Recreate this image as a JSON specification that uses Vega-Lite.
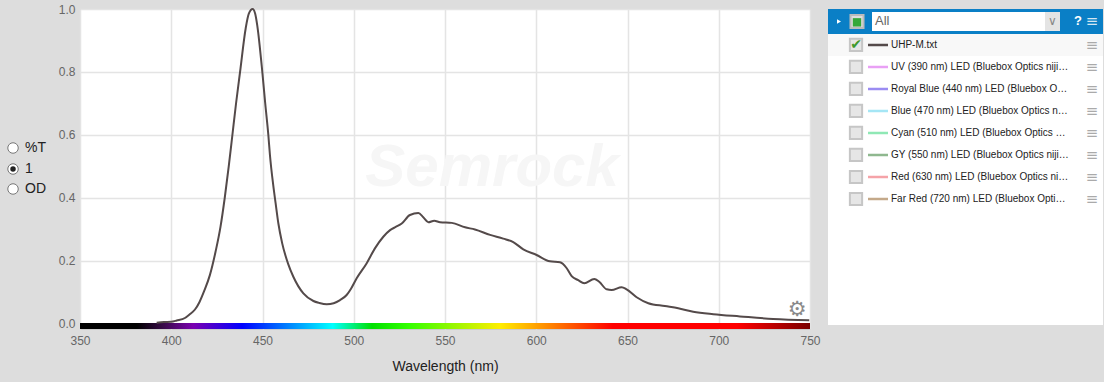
{"$schema":"https://vega.github.io/schema/vega-lite/v6.json","background":"#dddddd","bounds":"flush","padding":{"left":0,"top":0,"right":1,"bottom":0},"spacing":18,"config":{"font":"Liberation Sans","view":{"stroke":null}},
"datasets":{"one":[{}],"spectrum":[{"nm":392,"v":0.004},{"nm":396,"v":0.006},{"nm":400,"v":0.007},{"nm":403,"v":0.011},{"nm":407.5,"v":0.019},{"nm":410,"v":0.03},{"nm":413,"v":0.046},{"nm":415.5,"v":0.07},{"nm":418,"v":0.104},{"nm":421.2,"v":0.156},{"nm":424.3,"v":0.23},{"nm":427,"v":0.309},{"nm":429.3,"v":0.4},{"nm":431.5,"v":0.5},{"nm":433.5,"v":0.6},{"nm":435.5,"v":0.7},{"nm":437.7,"v":0.8},{"nm":440.8,"v":0.939},{"nm":442.5,"v":0.985},{"nm":444.6,"v":1.0},{"nm":446,"v":0.985},{"nm":447.1,"v":0.949},{"nm":449.9,"v":0.8},{"nm":451.5,"v":0.7},{"nm":453.2,"v":0.6},{"nm":454.1,"v":0.535},{"nm":455.9,"v":0.44},{"nm":457.2,"v":0.383},{"nm":458.7,"v":0.319},{"nm":460.8,"v":0.256},{"nm":464.1,"v":0.19},{"nm":466.9,"v":0.15},{"nm":472.4,"v":0.097},{"nm":477.9,"v":0.073},{"nm":481,"v":0.067},{"nm":485.2,"v":0.0625},{"nm":489,"v":0.066},{"nm":492.5,"v":0.076},{"nm":496.1,"v":0.092},{"nm":498.5,"v":0.112},{"nm":501.6,"v":0.145},{"nm":507.1,"v":0.193},{"nm":511.6,"v":0.24},{"nm":516.2,"v":0.277},{"nm":519.9,"v":0.298},{"nm":523,"v":0.308},{"nm":526.3,"v":0.319},{"nm":530.8,"v":0.346},{"nm":535.4,"v":0.352},{"nm":538.1,"v":0.339},{"nm":540.9,"v":0.323},{"nm":544.1,"v":0.328},{"nm":547.3,"v":0.323},{"nm":553.7,"v":0.321},{"nm":561,"v":0.307},{"nm":566.4,"v":0.3},{"nm":574.7,"v":0.283},{"nm":581.9,"v":0.271},{"nm":587.4,"v":0.26},{"nm":592.9,"v":0.237},{"nm":600.2,"v":0.219},{"nm":607.5,"v":0.199},{"nm":613,"v":0.196},{"nm":616.7,"v":0.177},{"nm":619.4,"v":0.152},{"nm":623,"v":0.139},{"nm":626.3,"v":0.129},{"nm":631.8,"v":0.143},{"nm":634.5,"v":0.134},{"nm":638.6,"v":0.11},{"nm":641.3,"v":0.108},{"nm":646.8,"v":0.117},{"nm":649.5,"v":0.11},{"nm":655,"v":0.085},{"nm":661.4,"v":0.066},{"nm":670.5,"v":0.057},{"nm":677.8,"v":0.05},{"nm":686,"v":0.039},{"nm":697,"v":0.031},{"nm":711.6,"v":0.024},{"nm":729.8,"v":0.016},{"nm":749.6,"v":0.012}],
"series":[{"row":1,"name":"UHP-M.txt","label":"UHP-M.txt","on":true},{"row":2,"name":"UV","label":"UV (390 nm) LED (Bluebox Optics niji…","on":false},{"row":3,"name":"Royal Blue","label":"Royal Blue (440 nm) LED (Bluebox O…","on":false},{"row":4,"name":"Blue","label":"Blue (470 nm) LED (Bluebox Optics n…","on":false},{"row":5,"name":"Cyan","label":"Cyan (510 nm) LED (Bluebox Optics …","on":false},{"row":6,"name":"GY","label":"GY (550 nm) LED (Bluebox Optics niji…","on":false},{"row":7,"name":"Red","label":"Red (630 nm) LED (Bluebox Optics ni…","on":false},{"row":8,"name":"Far Red","label":"Far Red (720 nm) LED (Bluebox Opti…","on":false}]},
"hconcat":[
{"width":730,"height":320,"view":{"fill":"#ffffff","stroke":"#cccccc"},"data":{"name":"one"},
"layer":[
{"data":{"name":"spectrum"},"mark":{"type":"line","color":"#544a4a","strokeWidth":2,"opacity":0},
"encoding":{"x":{"field":"nm","type":"quantitative","scale":{"domain":[350,750],"nice":false,"zero":false},"axis":{"values":[350,400,450,500,550,600,650,700,750],"title":"Wavelength (nm)","titleFontSize":14,"titleFontWeight":"normal","titleColor":"#222222","titlePadding":13,"labelFontSize":12,"labelColor":"#666666","labelPadding":6,"grid":true,"gridColor":"#e4e4e4","gridWidth":1.5,"domain":false,"ticks":false,"labelFlush":false}},
"y":{"field":"v","type":"quantitative","scale":{"domain":[-0.0159,1],"nice":false,"zero":false},"axis":{"values":[0,0.2,0.4,0.6,0.8,1],"format":".1f","title":null,"labelFontSize":12,"labelColor":"#666666","labelPadding":5,"grid":true,"gridColor":"#e4e4e4","gridWidth":1.5,"domain":false,"ticks":false}}}},
{"mark":{"type":"rect","color":"#dddddd","opacity":0},"encoding":{"x":{"datum":306.7},"x2":{"datum":310},"y":{"datum":1.0254},"y2":{"datum":-0.184}}},
{"mark":{"type":"text","text":"Semrock","font":"Liberation Sans","fontStyle":"italic","fontWeight":"bold","fontSize":60,"color":"#f6f6f6"},"encoding":{"x":{"datum":575.8},"y":{"datum":0.495}}},
{"mark":{"type":"rect","color":{"gradient":"linear","x1":0,"x2":1,"y1":0,"y2":0,"stops":[{"offset":0,"color":"#000000"},{"offset":0.078,"color":"#000000"},{"offset":0.115,"color":"#3a0a4a"},{"offset":0.155,"color":"#7a00b0"},{"offset":0.222,"color":"#0000ff"},{"offset":0.346,"color":"#00ffff"},{"offset":0.4,"color":"#00e000"},{"offset":0.45,"color":"#33ff00"},{"offset":0.575,"color":"#ffee00"},{"offset":0.73,"color":"#ff0000"},{"offset":0.9,"color":"#ff0000"},{"offset":1,"color":"#7a0000"}]}},"encoding":{"x":{"datum":350},"x2":{"datum":750},"y":{"datum":-0.0159},"y2":{"datum":0.0032}}},
{"data":{"name":"spectrum"},"mark":{"type":"line","color":"#544a4a","strokeWidth":2,"interpolate":"monotone"},"encoding":{"x":{"field":"nm","type":"quantitative"},"y":{"field":"v","type":"quantitative"}}},
{"mark":{"type":"text","text":"⚙","font":"DejaVu Sans","fontSize":21,"color":"#8a8a8a"},"encoding":{"x":{"datum":742.9},"y":{"datum":0.044}}},
{"mark":{"type":"point","filled":true,"shape":"circle","size":110,"fill":"#ffffff","stroke":"#777777","strokeWidth":1,"opacity":1},"encoding":{"x":{"datum":313.3},"y":{"datum":0.5587}}},
{"mark":{"type":"point","filled":true,"shape":"circle","size":110,"fill":"#ffffff","stroke":"#777777","strokeWidth":1,"opacity":1},"encoding":{"x":{"datum":313.3},"y":{"datum":0.492}}},
{"mark":{"type":"point","filled":true,"shape":"circle","size":110,"fill":"#ffffff","stroke":"#777777","strokeWidth":1,"opacity":1},"encoding":{"x":{"datum":313.3},"y":{"datum":0.4286}}},
{"mark":{"type":"point","filled":true,"shape":"circle","size":30,"fill":"#222222","opacity":1},"encoding":{"x":{"datum":313.3},"y":{"datum":0.492}}},
{"mark":{"type":"text","text":"%T","align":"left","fontSize":14,"color":"#222222"},"encoding":{"x":{"datum":319.9},"y":{"datum":0.5587}}},
{"mark":{"type":"text","text":"1","align":"left","fontSize":14,"color":"#222222"},"encoding":{"x":{"datum":319.9},"y":{"datum":0.492}}},
{"mark":{"type":"text","text":"OD","align":"left","fontSize":14,"color":"#222222"},"encoding":{"x":{"datum":319.9},"y":{"datum":0.4286}}}
]},
{"width":275,"height":316,"view":{"fill":"#ffffff"},"data":{"name":"series"},
"layer":[
{"mark":{"type":"rect","color":"#f8f8f8"},"transform":[{"filter":"datum.on"}],"encoding":{"x":{"datum":0,"scale":{"domain":[0,275],"nice":false,"zero":false},"axis":null},"x2":{"datum":275},"y":{"datum":0.5,"scale":{"domain":[-0.636,13.727],"reverse":true,"nice":false,"zero":false},"axis":null},"y2":{"datum":1.5}}},
{"data":{"name":"one"},"mark":{"type":"rect","color":"#0a7fc6"},"encoding":{"x":{"datum":0},"x2":{"datum":275},"y":{"datum":-0.636},"y2":{"datum":0.5}}},
{"data":{"name":"one"},"mark":{"type":"rect","color":"#ffffff"},"encoding":{"x":{"datum":44},"x2":{"datum":232},"y":{"datum":-0.5},"y2":{"datum":0.36}}},
{"data":{"name":"one"},"mark":{"type":"rect","color":"#e4e4e4"},"encoding":{"x":{"datum":217},"x2":{"datum":232},"y":{"datum":-0.5},"y2":{"datum":0.36}}},
{"data":{"name":"one"},"mark":{"type":"text","text":"∨","font":"DejaVu Sans","fontSize":12,"color":"#888888"},"encoding":{"x":{"datum":224.5},"y":{"datum":-0.068}}},
{"data":{"name":"one"},"mark":{"type":"text","text":"All","align":"left","fontSize":13,"color":"#666666"},"encoding":{"x":{"datum":47},"y":{"datum":-0.068}}},
{"data":{"name":"one"},"mark":{"type":"point","filled":true,"shape":"triangle-right","size":22,"color":"#ffffff","opacity":1},"encoding":{"x":{"datum":11},"y":{"datum":-0.068}}},
{"data":{"name":"one"},"mark":{"type":"point","filled":true,"shape":"square","size":170,"fill":"#dddddd","stroke":"#bbbbbb","opacity":1},"encoding":{"x":{"datum":29},"y":{"datum":-0.068}}},
{"data":{"name":"one"},"mark":{"type":"point","filled":true,"shape":"square","size":70,"color":"#35a839","opacity":1},"encoding":{"x":{"datum":29},"y":{"datum":-0.03}}},
{"data":{"name":"one"},"mark":{"type":"text","text":"?","fontSize":13,"fontWeight":"bold","color":"#ffffff"},"encoding":{"x":{"datum":250},"y":{"datum":-0.068}}},
{"data":{"name":"one"},"mark":{"type":"text","text":"≡","font":"DejaVu Sans","fontSize":15,"color":"#d5e6f2"},"encoding":{"x":{"datum":264},"y":{"datum":-0.068}}},
{"mark":{"type":"point","filled":true,"shape":"square","size":150,"fill":"#e6e6e6","stroke":"#c6c6c6","opacity":1},"encoding":{"x":{"datum":28},"y":{"field":"row","type":"quantitative"}}},
{"mark":{"type":"text","text":"✔","font":"DejaVu Sans","fontSize":14,"color":"#3f9a2e"},"transform":[{"filter":"datum.on"}],"encoding":{"x":{"datum":28},"y":{"field":"row","type":"quantitative"}}},
{"mark":{"type":"rule","strokeWidth":2.5},"encoding":{"x":{"datum":40},"x2":{"datum":60},"y":{"field":"row","type":"quantitative"},"color":{"field":"name","type":"nominal","legend":null,"scale":{"domain":["UHP-M.txt","UV","Royal Blue","Blue","Cyan","GY","Red","Far Red"],"range":["#544a4a","#e9a0f5","#9b8cf2","#a5e6f5","#8fe8b5","#8fb88f","#f5a3a8","#c4a98a"]}}}},
{"mark":{"type":"text","align":"left","fontSize":10,"color":"#222222"},"encoding":{"x":{"datum":63},"y":{"field":"row","type":"quantitative"},"text":{"field":"label"}}},
{"mark":{"type":"text","text":"≡","font":"DejaVu Sans","fontSize":15,"color":"#aaaaaa"},"encoding":{"x":{"datum":264},"y":{"field":"row","type":"quantitative"}}}
]}
]}
